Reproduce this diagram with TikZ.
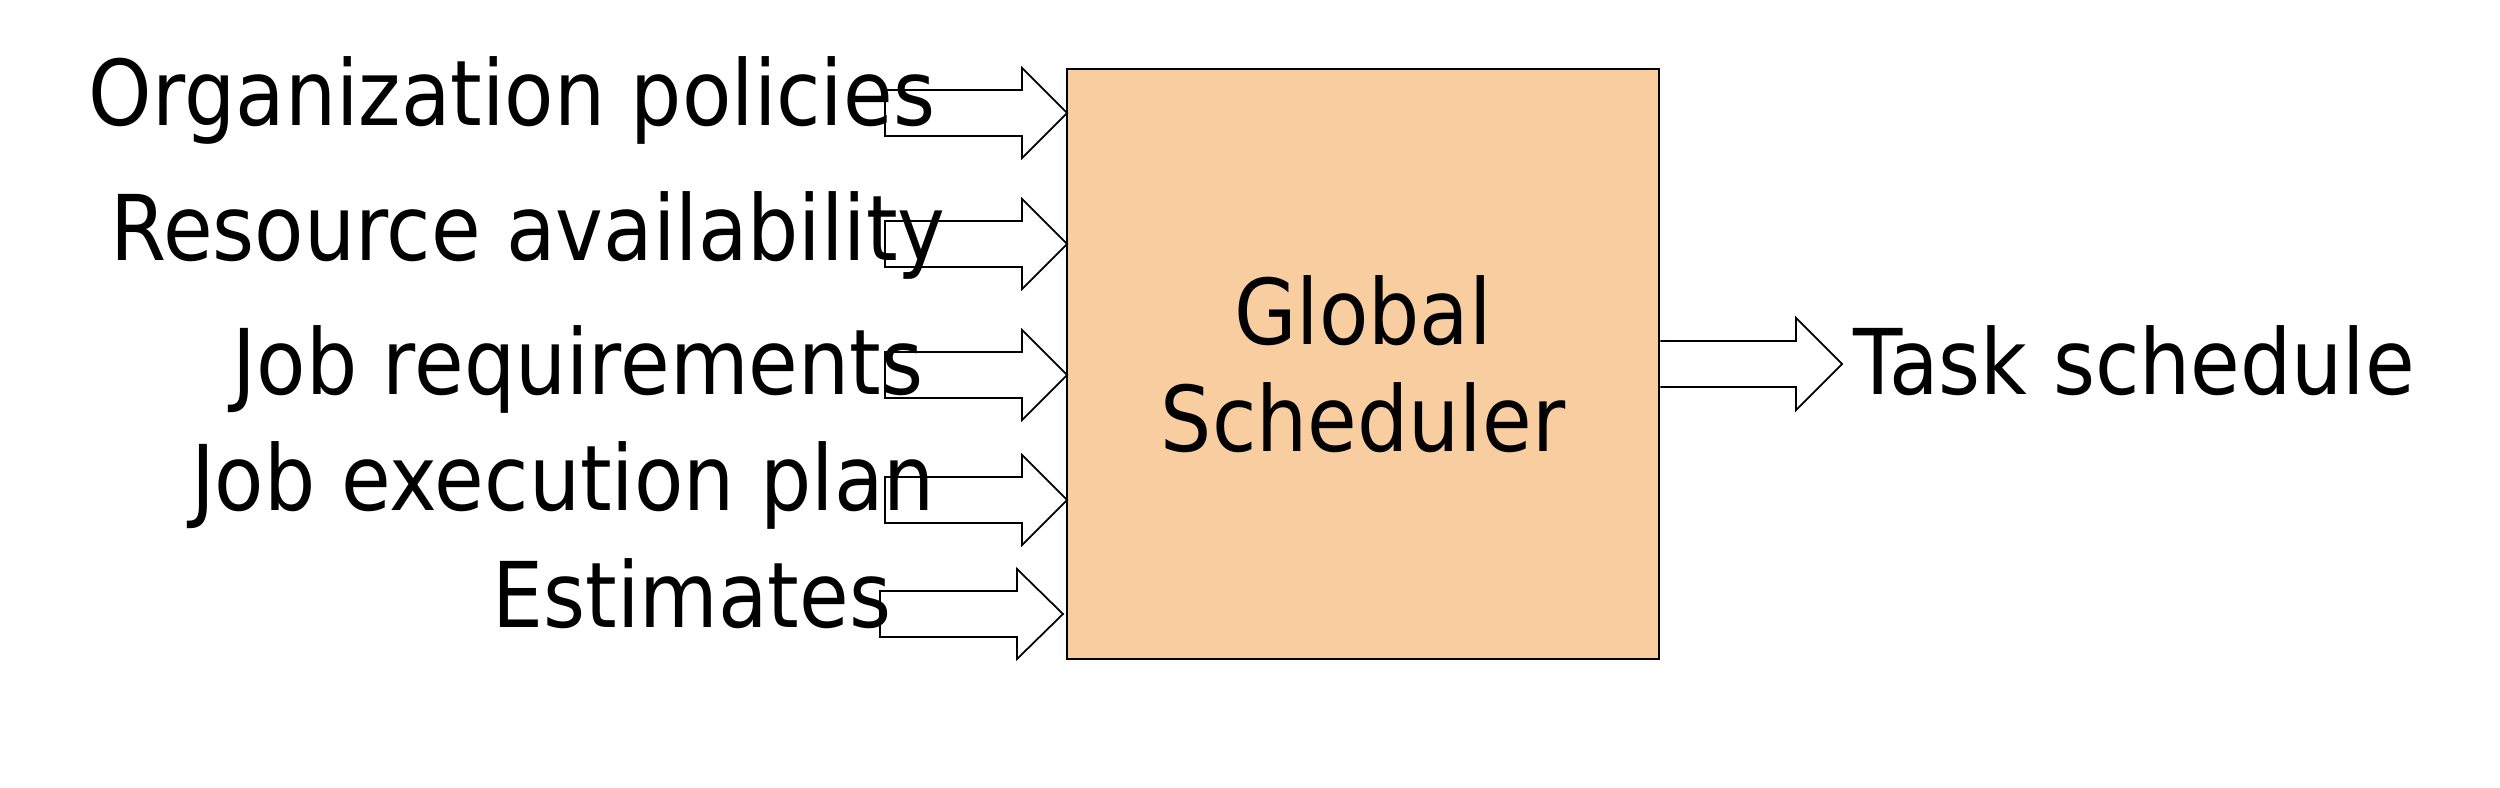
\documentclass[tikz,border=0pt]{standalone}
\usepackage{fontspec}
\setmainfont[FakeStretch=0.89]{DejaVu Sans}
\usetikzlibrary{calc}
\definecolor{boxfill}{RGB}{248,206,160}
\begin{document}
\begin{tikzpicture}[x=0.01cm,y=-0.01cm,
  lbl/.style={font=\fontsize{25.8}{30.4}\selectfont, inner sep=0pt, anchor=base},
  blk/.style={draw=black, line width=0.5pt, line join=miter}]
\useasboundingbox (0,0) rectangle (2500,788);
\node[draw=black, line width=0.6pt, fill=boxfill, minimum width=5.92cm, minimum height=5.90cm,
      inner sep=0pt, align=center, font=\fontsize{25.8}{30.4}\selectfont] (gs) at (1363,364) {Global\\Scheduler};
\node[lbl] (org) at (512,126) {Organization policies};
\node[lbl] (res) at (528,260) {Resource availability};
\node[lbl] (req) at (578,394) {Job requirements};
\node[lbl] (plan) at (563,510) {Job execution plan};
\node[lbl] (est) at (692,627) {Estimates};
\node[lbl] (task) at (2134,394) {Task schedule};
% input block arrows: tip y / tip x / head base x / tail x
\foreach \ty/\tx/\bx/\tl in {113/1067/1022/885, 244/1067/1022/885, 375/1067/1022/885, 500/1067/1022/885, 614/1063/1017/880}{
  \draw[blk] (\tl,\ty-23) -- (\bx,\ty-23) -- (\bx,\ty-45) -- (\tx,\ty) -- (\bx,\ty+45) -- (\bx,\ty+23) -- (\tl,\ty+23) -- cycle;
}
% output block arrow from the box to the label
\coordinate (otail) at (gs.east);
\coordinate (otip) at (1842,364);
\draw[blk] ($(otail)+(0,-23)$) -- ($(otip)+(-46,-23)$) -- ($(otip)+(-46,-46)$) -- (otip)
  -- ($(otip)+(-46,46)$) -- ($(otip)+(-46,23)$) -- ($(otail)+(0,23)$);
\end{tikzpicture}
\end{document}
